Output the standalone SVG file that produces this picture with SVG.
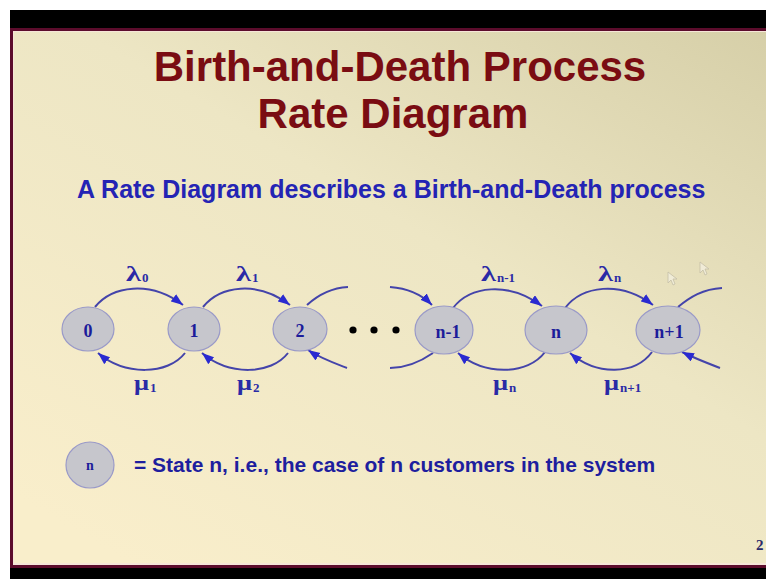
<svg xmlns="http://www.w3.org/2000/svg" width="766" height="579" viewBox="0 0 766 579">
<defs>
  <linearGradient id="bg" x1="1" y1="0" x2="0.15" y2="1">
    <stop offset="0" stop-color="#d6cfa8"/>
    <stop offset="0.45" stop-color="#ede6c4"/>
    <stop offset="1" stop-color="#f9eecb"/>
  </linearGradient>
  <marker id="ah" markerUnits="userSpaceOnUse" markerWidth="13" markerHeight="10" refX="12" refY="4.5" orient="auto">
    <path d="M0,0 L12,4.5 L0,9 z" fill="#2a2ad0"/>
  </marker>
  <style>
    .node ellipse { fill: #c6c6cc; stroke: #9a9ac8; stroke-width: 1.2; }
    .nl { font-family: "Liberation Serif", serif; font-weight: bold; font-size: 18px; fill: #1c1c9a; text-anchor: middle; }
    .arc { fill: none; stroke: #4444aa; stroke-width: 2; }
    .arr { marker-end: url(#ah); }
    .lab { font-family: "Liberation Serif", serif; font-weight: bold; font-size: 21px; fill: #2a2aa6; }
    .sub { font-family: "Liberation Serif", serif; font-weight: bold; font-size: 13px; fill: #2a2aa6; }
    .title { font-family: "Liberation Sans", Arial, sans-serif; font-weight: bold; font-size: 42px; fill: #7a0c12; text-anchor: middle; }
    .subt { font-family: "Liberation Sans", Arial, sans-serif; font-weight: bold; font-size: 25px; fill: #2424b4; }
    .leg { font-family: "Liberation Sans", Arial, sans-serif; font-weight: bold; font-size: 21px; fill: #1e1e9e; }
    .cur { fill: #f3efde; stroke: #bdb8a2; stroke-width: 0.8; opacity: 0.8; }
  </style>
</defs>
<rect x="0" y="0" width="766" height="579" fill="#ffffff"/>
<rect x="10" y="10" width="756" height="569" fill="#000000"/>
<rect x="10" y="28" width="760" height="540" fill="#5c0c2c"/>
<rect x="13" y="31" width="760" height="534" fill="#f6e6d8"/>
<rect x="14" y="32" width="760" height="531" fill="url(#bg)"/>

<g id="title">
  <text class="title" x="400" y="81">Birth-and-Death Process</text>
  <text class="title" x="393" y="128">Rate Diagram</text>
</g>
<text class="subt" x="77" y="198">A Rate Diagram describes a Birth-and-Death process</text>

<g id="connectors">
  <path class="arc arr" d="M95,307 C112,286 150,280 183,305"/>
  <path class="arc arr" d="M203,307 C220,286 257,280 290,305"/>
  <path class="arc" d="M307,305 C318,295 330,288 348,287"/>
  <path class="arc arr" d="M390,287 C405,288 420,293 432,305"/>
  <path class="arc arr" d="M453,308 C470,286 508,281 542,306"/>
  <path class="arc arr" d="M565,308 C582,286 620,280 653,305"/>
  <path class="arc" d="M678,307 C690,297 703,289 722,288"/>

  <path class="arc arr" d="M185,353 C168,375 125,376 98,353"/>
  <path class="arc arr" d="M288,353 C271,375 229,376 202,353"/>
  <path class="arc arr" d="M347,368 C334,363 320,358 308,350"/>
  <path class="arc" d="M433,353 C420,362 405,368 390,368"/>
  <path class="arc arr" d="M545,352 C528,375 485,376 458,353"/>
  <path class="arc arr" d="M652,352 C635,375 597,376 570,353"/>
  <path class="arc arr" d="M720,368 C707,363 694,358 682,352"/>
</g>

<g id="n0" class="node"><ellipse cx="88" cy="329" rx="26" ry="22"/><text class="nl" x="88" y="337">0</text></g>
<g id="n1" class="node"><ellipse cx="194" cy="329" rx="26" ry="22"/><text class="nl" x="194" y="337">1</text></g>
<g id="n2" class="node"><ellipse cx="300" cy="329" rx="27" ry="22"/><text class="nl" x="300" y="337">2</text></g>
<g id="dots" fill="#000">
  <circle cx="353" cy="330" r="3.6"/><circle cx="374" cy="330" r="3.6"/><circle cx="396" cy="330" r="3.6"/>
</g>
<g id="nm1" class="node"><ellipse cx="444" cy="330" rx="29" ry="24"/><text class="nl" x="448" y="338">n-1</text></g>
<g id="nn" class="node"><ellipse cx="556" cy="330" rx="31" ry="24"/><text class="nl" x="556" y="338">n</text></g>
<g id="np1" class="node"><ellipse cx="668" cy="330" rx="32" ry="24"/><text class="nl" x="669" y="338">n+1</text></g>

<g id="labels">
  <text class="lab" x="126" y="281" textLength="15" lengthAdjust="spacingAndGlyphs">λ</text><text class="sub" x="142" y="282">0</text>
  <text class="lab" x="236" y="281" textLength="15" lengthAdjust="spacingAndGlyphs">λ</text><text class="sub" x="252" y="282">1</text>
  <text class="lab" x="481" y="281" textLength="15" lengthAdjust="spacingAndGlyphs">λ</text><text class="sub" x="497" y="282">n-1</text>
  <text class="lab" x="598" y="281" textLength="15" lengthAdjust="spacingAndGlyphs">λ</text><text class="sub" x="614" y="282">n</text>
  <text class="lab" x="134" y="390" textLength="15" lengthAdjust="spacingAndGlyphs">μ</text><text class="sub" x="150" y="392">1</text>
  <text class="lab" x="237" y="390" textLength="15" lengthAdjust="spacingAndGlyphs">μ</text><text class="sub" x="253" y="392">2</text>
  <text class="lab" x="493" y="390" textLength="15" lengthAdjust="spacingAndGlyphs">μ</text><text class="sub" x="509" y="392">n</text>
  <text class="lab" x="604" y="390" textLength="15" lengthAdjust="spacingAndGlyphs">μ</text><text class="sub" x="620" y="392">n+1</text>
</g>

<g id="legend">
  <g id="legnode" class="node"><ellipse cx="90" cy="465" rx="24" ry="23"/><text class="nl" x="90" y="470" style="font-size:14px">n</text></g>
  <text class="leg" x="134" y="472">= State n, i.e., the case of n customers in the system</text>
</g>
<g id="cursors">
  <path class="cur" d="M668,272 L668,283 L671,280 L673,285 L675,284 L673,279 L677,279 z"/>
  <path class="cur" d="M700,262 L700,273 L703,270 L705,275 L707,274 L705,269 L709,269 z"/>
</g>
<text x="756" y="550" font-family="Liberation Serif, serif" font-weight="bold" font-size="15" fill="#2a2a6a">2</text>
</svg>
